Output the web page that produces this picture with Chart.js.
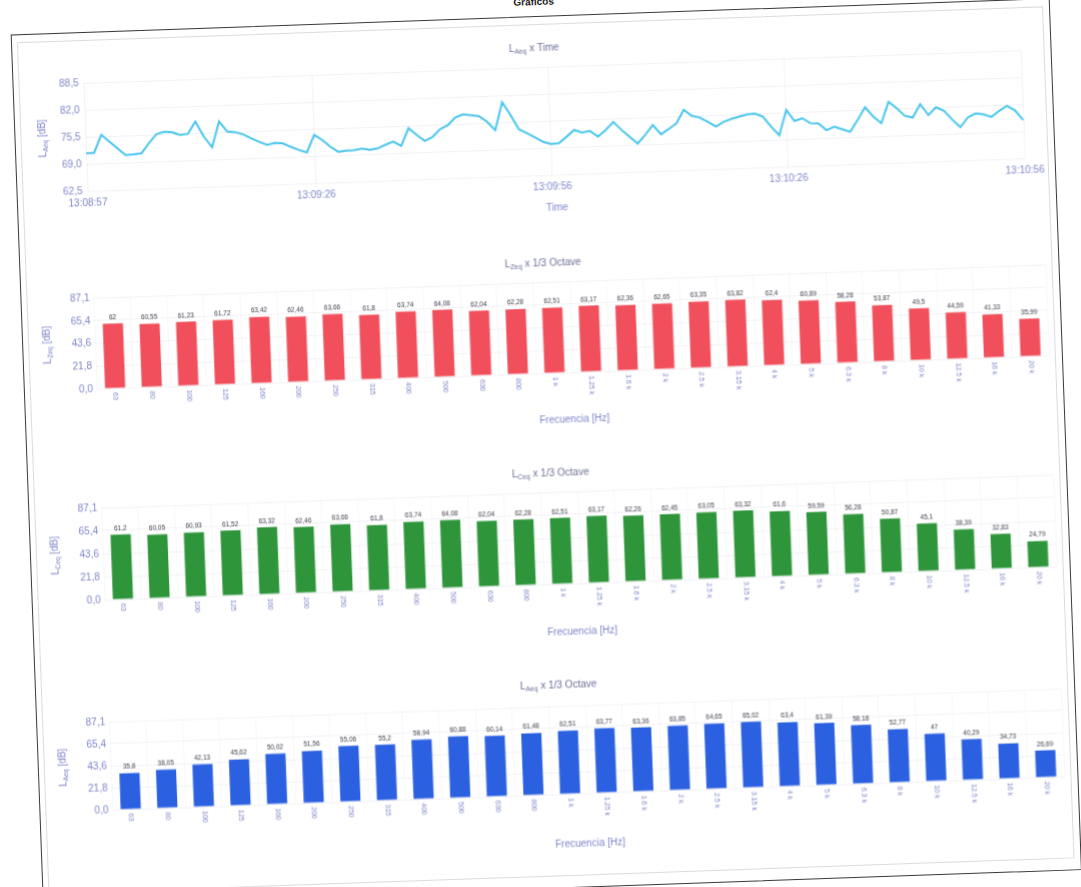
<!DOCTYPE html>
<html>
<head>
<meta charset="utf-8">
<script src="https://cdn.jsdelivr.net/npm/chart.js@4.4.1/dist/chart.umd.min.js"></script>
<style>
    html, body { margin: 0; padding: 0; background: #fff; width: 1081px; height: 887px; overflow: hidden; }
    #page {
        position: absolute; left: 0; top: 0; width: 1081px; height: 887px;
        transform-origin: 88px 203px;
        transform: matrix(1, -0.035, 0.037, 1, 0, 0);
    }
    #header { position: absolute; left: 0; top: 12px; width: 1081px; text-align: center;
        font: bold 10px "Liberation Sans", Arial, sans-serif; color: #222; }
    #frame { position: absolute; left: 17px; top: 32px; width: 1037px; height: 870px; border: 1px solid #3a3a3a; }
    #panel { position: absolute; left: 23px; top: 40px; width: 1024px; height: 850px; border: 1px solid #dcdce0; }
    canvas { position: absolute; left: 16px; }
</style>
</head>
<body>
<div id="page">
    <div id="header">Gráficos</div>
    <div id="frame"></div>
    <div id="panel"></div>
    <canvas id="timeChart" width="1038" height="200" style="top:40px"></canvas>
    <canvas id="zChart" width="1038" height="200" style="top:250px"></canvas>
    <canvas id="cChart" width="1038" height="200" style="top:460px"></canvas>
    <canvas id="aChart" width="1038" height="200" style="top:673px"></canvas>
</div>
<script>
// ---- data ----
const timeStart = '13:08:57';
const timeTickLabels = ['13:08:57', '13:09:26', '13:09:56', '13:10:26', '13:10:56'];
const timeYTicks = [62.5, 69.0, 75.5, 82.0, 88.5];
const laeqTime = [
    71.6, 71.6, 75.9, 74.2, 72.5, 70.8, 70.9, 71.1, 73.5, 75.6,
    76.1, 75.9, 75.2, 75.4, 78.3, 74.6, 72.0, 78.1, 75.6, 75.4,
    74.8, 73.8, 72.9, 72.1, 72.5, 72.3, 71.4, 70.6, 69.9, 74.1,
    72.8, 71.1, 69.8, 70.0, 70.1, 70.4, 70.0, 70.3, 71.1, 71.8,
    70.7, 74.9, 73.2, 71.7, 72.6, 74.4, 75.3, 77.1, 77.8, 77.5,
    77.2, 75.8, 73.7, 80.4, 77.2, 73.7, 72.7, 71.6, 70.5, 69.9,
    70.0, 71.5, 73.1, 72.4, 72.7, 71.3, 72.8, 74.7, 72.7, 71.0,
    69.3, 71.3, 73.6, 71.3, 72.5, 73.8, 77.0, 75.5, 75.0, 73.9,
    72.7, 73.8, 74.4, 74.9, 75.4, 75.5, 74.7, 72.2, 70.1, 76.1,
    73.4, 74.0, 72.7, 72.6, 70.9, 71.7, 71.0, 70.3, 73.1, 76.1,
    73.8, 72.1, 77.2, 75.6, 73.7, 73.2, 76.4, 73.7, 75.5, 74.6,
    72.4, 70.5, 72.8, 73.7, 73.4, 72.7, 74.1, 75.2, 74.1, 71.7
];

const bandLabels = ['63', '80', '100', '125', '160', '200', '250', '315', '400', '500', '630', '800',
    '1 k', '1.25 k', '1.6 k', '2 k', '2.5 k', '3.15 k', '4 k', '5 k', '6.3 k', '8 k', '10 k', '12.5 k', '16 k', '20 k'];
const lzeqBands = [62, 60.55, 61.23, 61.72, 63.42, 62.46, 63.66, 61.8, 63.74, 64.08, 62.04, 62.28,
    62.51, 63.17, 62.36, 62.65, 63.35, 63.82, 62.4, 60.89, 58.28, 53.87, 49.5, 44.59, 41.33, 35.99];
const lceqBands = [61.2, 60.05, 60.93, 61.52, 63.32, 62.46, 63.66, 61.8, 63.74, 64.08, 62.04, 62.28,
    62.51, 63.17, 62.26, 62.45, 63.05, 63.32, 61.6, 59.59, 56.28, 50.87, 45.1, 38.39, 32.83, 24.79];
const laeqBands = [35.8, 38.05, 42.13, 45.62, 50.02, 51.56, 55.06, 55.2, 58.94, 60.88, 60.14, 61.48,
    62.51, 63.77, 63.36, 63.85, 64.65, 65.02, 63.4, 61.39, 58.18, 52.77, 47, 40.29, 34.73, 26.69];
const barYTicks = [0, 21.775, 43.55, 65.325, 87.1];
const barYTickLabels = ['0,0', '21,8', '43,6', '65,4', '87,1'];

// ---- look ----
const FONT = '"Liberation Sans", Arial, sans-serif';
const AXIS_COLOR = '#7f85c8';
const TITLE_COLOR = '#6c6f98';
const GRID_COLOR = 'rgba(210, 210, 222, 0.28)';

Chart.defaults.font.family = FONT;
Chart.defaults.animation = false;

function secondLabels(start, n) {
    const [h, m, s] = start.split(':').map(Number);
    const t0 = h * 3600 + m * 60 + s;
    const pad = (v) => String(v).padStart(2, '0');
    const out = [];
    for (let i = 0; i < n; i++) {
        const t = t0 + i;
        out.push(pad(Math.floor(t / 3600)) + ':' + pad(Math.floor(t / 60) % 60) + ':' + pad(t % 60));
    }
    return out;
}

const fmt = (v) => String(v).replace('.', ',');

// text like L<sub>Aeq</sub> x Time
function drawRich(ctx, parts, x, y, rot, size, color) {
    const [main, sub, rest] = parts;
    ctx.save();
    ctx.translate(x, y);
    ctx.rotate(rot);
    ctx.fillStyle = color;
    ctx.textBaseline = 'middle';
    ctx.textAlign = 'left';
    const big = size + 'px ' + FONT;
    const small = (size * 0.68).toFixed(1) + 'px ' + FONT;
    ctx.font = big;
    const w1 = ctx.measureText(main).width;
    const w3 = ctx.measureText(rest).width;
    ctx.font = small;
    const w2 = ctx.measureText(sub).width;
    let cx = -(w1 + w2 + w3) / 2;
    ctx.font = big;
    ctx.fillText(main, cx, 0);
    cx += w1;
    ctx.font = small;
    ctx.fillText(sub, cx, size * 0.3);
    cx += w2;
    ctx.font = big;
    ctx.fillText(rest, cx, 0);
    ctx.restore();
}

const richTitles = {
    id: 'richTitles',
    afterDraw(chart, args, opts) {
        const ctx = chart.ctx;
        const area = chart.chartArea;
        drawRich(ctx, opts.title, opts.titleX, opts.titleY, 0, 10, TITLE_COLOR);
        drawRich(ctx, opts.yTitle, opts.yTitleX, (area.top + area.bottom) / 2, -Math.PI / 2, 10, AXIS_COLOR);
    }
};

const barTexts = {
    id: 'barTexts',
    afterDatasetsDraw(chart) {
        const ctx = chart.ctx;
        const meta = chart.getDatasetMeta(0);
        const values = chart.data.datasets[0].data;
        const xScale = chart.scales.x;
        ctx.save();
        ctx.font = '6.5px ' + FONT;
        ctx.fillStyle = '#3a3a48';
        ctx.textAlign = 'center';
        ctx.textBaseline = 'bottom';
        meta.data.forEach((bar, i) => ctx.fillText(fmt(values[i]), bar.x, bar.y - 3));

        ctx.font = '7px ' + FONT;
        ctx.fillStyle = AXIS_COLOR;
        ctx.textAlign = 'left';
        ctx.textBaseline = 'middle';
        chart.data.labels.forEach((lab, i) => {
            ctx.save();
            ctx.translate(xScale.getPixelForTick(i), chart.chartArea.bottom + 4);
            ctx.rotate(Math.PI / 2);
            ctx.fillText(lab, 0, 0);
            ctx.restore();
        });
        ctx.restore();
    }
};

// ---- LAeq x Time ----
const timeLabels = secondLabels(timeStart, laeqTime.length);

new Chart('timeChart', {
    type: 'line',
    data: {
        labels: timeLabels,
        datasets: [{
            data: laeqTime,
            borderColor: '#46c4ec',
            borderWidth: 2,
            pointRadius: 0,
            tension: 0,
            fill: false
        }]
    },
    options: {
        responsive: false,
        devicePixelRatio: 1,
        layout: { padding: { top: 43, left: 0, right: 29, bottom: 0 } },
        plugins: {
            legend: { display: false },
            tooltip: { enabled: false },
            richTitles: {
                title: ['L', 'Aeq', ' x Time'], titleX: 523, titleY: 24,
                yTitle: ['L', 'Aeq', ' [dB]'], yTitleX: 29
            }
        },
        scales: {
            x: {
                grid: {
                    drawTicks: false,
                    color: (c) => timeTickLabels.includes(timeLabels[c.index]) ? GRID_COLOR : 'rgba(0,0,0,0)'
                },
                border: { display: false },
                ticks: {
                    autoSkip: false, maxRotation: 0, padding: 6,
                    color: AXIS_COLOR, font: { size: 10 },
                    callback: (v, i) => timeTickLabels.includes(timeLabels[i]) ? timeLabels[i] : ''
                },
                title: { display: true, text: 'Time', color: AXIS_COLOR, font: { size: 10 }, padding: { top: 0, bottom: 10 } },
                afterFit: (s) => { s.height = 49; }
            },
            y: {
                min: timeYTicks[0],
                max: timeYTicks[timeYTicks.length - 1],
                afterBuildTicks: (s) => { s.ticks = timeYTicks.map((v) => ({ value: v })); },
                grid: { drawTicks: false, color: GRID_COLOR },
                border: { display: false },
                ticks: { padding: 5, color: AXIS_COLOR, font: { size: 10 }, callback: (v) => v.toFixed(1).replace('.', ',') },
                afterFit: (s) => { s.width = 72; }
            }
        }
    },
    plugins: [richTitles]
});

// ---- 1/3 octave bar charts ----
function octaveChart(id, values, color, sub, top, plotH, titleY, xTitlePad) {
    return new Chart(id, {
        type: 'bar',
        data: {
            labels: bandLabels,
            datasets: [{
                data: values,
                backgroundColor: color,
                borderWidth: 0,
                categoryPercentage: 1,
                barPercentage: 0.55
            }]
        },
        options: {
            responsive: false,
            devicePixelRatio: 1,
            layout: { padding: { top: top, left: 0, right: 12, bottom: 0 } },
            plugins: {
                legend: { display: false },
                tooltip: { enabled: false },
                richTitles: {
                    title: ['L', sub, ' x 1/3 Octave'], titleX: 524, titleY: titleY,
                    yTitle: ['L', sub, ' [dB]'], yTitleX: 26
                }
            },
            scales: {
                x: {
                    grid: { drawTicks: false, color: 'rgba(215, 210, 222, 0.18)' },
                    border: { display: false },
                    ticks: { display: false },
                    title: { display: true, text: 'Frecuencia [Hz]', color: AXIS_COLOR, font: { size: 10 }, padding: { top: 0, bottom: xTitlePad } },
                    afterFit: (s) => { s.height = 200 - top - plotH; }
                },
                y: {
                    min: barYTicks[0],
                    max: barYTicks[barYTicks.length - 1],
                    afterBuildTicks: (s) => { s.ticks = barYTicks.map((v) => ({ value: v })); },
                    grid: { drawTicks: false, color: GRID_COLOR },
                    border: { display: false },
                    ticks: {
                        padding: 4, color: AXIS_COLOR, font: { size: 10 },
                        callback: (v, i) => barYTickLabels[i]
                    },
                    afterFit: (s) => { s.width = 74; }
                }
            }
        },
        plugins: [richTitles, barTexts]
    });
}

octaveChart('zChart', lzeqBands, '#f04f5b', 'Zeq', 48, 91, 29, 8);
octaveChart('cChart', lceqBands, '#2e953a', 'Ceq', 48, 92, 29, 6);
octaveChart('aChart', laeqBands, '#2b60e0', 'Aeq', 49, 88, 28, 7);
</script>
</body>
</html>
